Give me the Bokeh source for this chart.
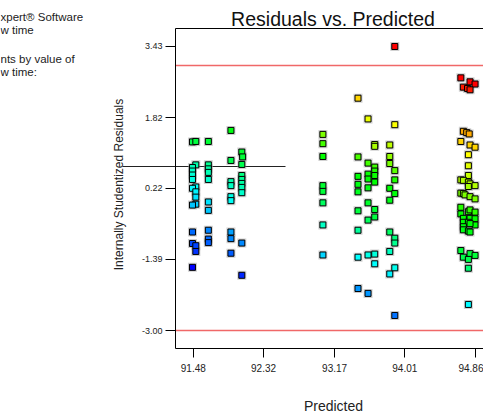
import colorsys
import math
import numpy as np
import pandas as pd
from bokeh.plotting import figure
from bokeh.models import (ColumnDataSource, LinearColorMapper, FixedTicker, Label,
                          LinearAxis, Range1d)
from bokeh.embed import file_html
from bokeh.resources import INLINE

# ---------------- data ----------------
x_ticks = [91.48, 92.32, 93.17, 94.01, 94.86]
y_ticks = [-3.00, -1.39, 0.22, 1.82, 3.43]
limit_lines = [-3.00, 3.00]

pred_a = [91.47, 91.51, 91.51, 91.47, 91.47, 91.47, 91.47, 91.51, 91.47, 91.51,
          91.51, 91.51, 91.47, 91.47, 91.47, 91.51, 91.51, 91.47]
resid_a = [1.27, 1.28, 0.75, 0.69, 0.61, 0.52, 0.42, 0.25, 0.22, 0.14,
           0.02, -0.14, -0.16, -0.77, -1.03, -1.08, -1.21, -1.57]

pred_b = [91.66, 91.66, 91.66, 91.66, 91.66, 91.66, 91.66, 91.66, 91.66, 91.66]
resid_b = [1.28, 0.75, 0.66, 0.58, 0.42, -0.09, -0.28, -0.73, -0.93, -1.01]

pred_c = [91.93, 92.06, 92.07, 91.93, 92.06, 92.06, 92.06, 92.06, 92.06, 92.06,
          91.93, 91.93, 91.93, 91.93, 91.93, 91.93, 92.06, 91.93, 92.06]
resid_c = [1.53, 1.04, 0.93, 0.85, 0.76, 0.51, 0.42, 0.33, 0.24, 0.12,
           0.37, 0.28, 0.03, -0.06, -0.77, -0.92, -1.02, -1.25, -1.75]

pred_d = [93.03, 93.03, 93.03, 93.03, 93.03, 93.03, 93.03, 93.03]
resid_d = [1.44, 1.23, 0.94, 0.28, 0.15, -0.11, -0.61, -1.29]

pred_e = [93.45] * 9 + [93.57] * 9 + [93.65] * 10
resid_e = [2.26, 0.93, 0.49, 0.31, 0.14, -0.29, -0.73, -1.34, -2.05,
           1.79, 0.79, 0.54, 0.43, 0.23, -0.11, -0.50, -1.29, -2.16,
           1.21, 1.17, 0.70, 0.61, 0.51, 0.36, -0.26, -0.43, -1.27, -1.49]

pred_f = [93.83] * 8 + [93.89] * 9
resid_f = [1.20, 0.94, 0.78, 0.22, -0.05, -0.77, -1.21, -1.72,
           3.43, 1.66, 0.62, 0.41, 0.10, -0.91, -1.02, -1.58, -2.66]

pred_g = [94.68, 94.79, 94.85, 94.71, 94.76, 94.79,
          94.71, 94.75, 94.78, 94.68, 94.79, 94.85, 94.77, 94.77,
          94.77, 94.68, 94.71, 94.77, 94.79, 94.85, 94.77,
          94.68, 94.71, 94.73, 94.79, 94.85,
          94.68, 94.77, 94.79, 94.85, 94.68, 94.71, 94.79, 94.85, 94.71, 94.77,
          94.85, 94.71, 94.79, 94.71, 94.77, 94.79,
          94.68, 94.71, 94.79, 94.85, 94.77, 94.77, 94.77]
resid_g = [2.72, 2.63, 2.58, 2.51, 2.48, 2.45,
           1.51, 1.48, 1.45, 1.28, 1.20, 1.15, 0.98, 0.73,
           0.51, 0.41, 0.40, 0.36, 0.32, 0.28, 0.26,
           0.11, 0.10, 0.07, 0.03, -0.02,
           -0.21, -0.31, -0.27, -0.32, -0.36, -0.46, -0.46, -0.47, -0.55, -0.55,
           -0.61, -0.65, -0.58, -0.72, -0.75, -0.77,
           -1.19, -1.34, -1.26, -1.30, -1.39, -1.59, -2.41]

predicted = pred_a + pred_b + pred_c + pred_d + pred_e + pred_f + pred_g
residuals = resid_a + resid_b + resid_c + resid_d + resid_e + resid_f + resid_g

title_text = "Residuals vs. Predicted"
x_label = "Predicted"
y_label = "Internally Studentized Residuals"
info_lines = ["xpert® Software", "w time", "nts by value of", "w time:"]

# ---------------- layout helpers (pixel geometry of the page) ----------------
W, H = 483, 414
PLOT_X0, PLOT_X1 = 91.267, 94.951      # x extent of the plotting box
PLOT_Y0, PLOT_Y1 = -3.4075, 3.8375     # y extent of the plotting box
BOX_L, BOX_R, BOX_T, BOX_B = 175, 483, 28, 348
sx = (PLOT_X1 - PLOT_X0) / (BOX_R - BOX_L)
sy = (PLOT_Y1 - PLOT_Y0) / (BOX_B - BOX_T)


def px_x(px):
    return PLOT_X0 + (px - BOX_L) * sx


def px_y(py):
    return PLOT_Y1 - (py - BOX_T) * sy


df = pd.DataFrame({"predicted": predicted, "residual": residuals})
# colour points by (approximate) flow time value
df["flow_time"] = df["predicted"] + 1.25 * df["residual"]
src = ColumnDataSource(df)

# blue -> cyan -> green -> yellow -> red colour ramp
C_LOW, C_HIGH = 89.5, 98.0
ramp_c = [89.5, 90.5, 91.76, 92.3, 93.1, 94.3, 94.8, 95.2, 96.0, 96.6, 97.9, 98.0]
ramp_h = [240, 215, 180, 165, 135, 118, 92, 78, 60, 40, 5, 0]
palette = []
for c in np.linspace(C_LOW, C_HIGH, 256):
    h = float(np.interp(c, ramp_c, ramp_h))
    r, g, b = colorsys.hsv_to_rgb(h / 360.0, 1.0, 1.0)
    palette.append("#%02x%02x%02x" % (int(r * 255), int(g * 255), int(b * 255)))
mapper = LinearColorMapper(palette=palette, low=C_LOW, high=C_HIGH)

FONT = "Liberation Sans"
TXT = "#222222"

p = figure(width=W, height=H, output_backend="svg", toolbar_location=None,
           x_range=Range1d(px_x(0), px_x(W)), y_range=Range1d(px_y(H), px_y(0)),
           x_axis_location=None, y_axis_location=None,
           min_border=0, min_border_left=0, min_border_right=0,
           min_border_top=0, min_border_bottom=0)
p.outline_line_color = None
p.grid.visible = False
p.background_fill_color = "white"
p.border_fill_color = "white"

# top border of the plotting box
p.segment(x0=[PLOT_X0], y0=[PLOT_Y1], x1=[PLOT_X1], y1=[PLOT_Y1],
          line_color="black", line_width=1)

# +/- limit lines
p.segment(x0=[PLOT_X0] * len(limit_lines), y0=limit_lines,
          x1=[PLOT_X1] * len(limit_lines), y1=limit_lines,
          line_color="#f06868", line_width=1.6)

# stray horizontal line from the legend area
p.segment(x0=[px_x(122)], y0=[px_y(166)], x1=[px_x(285)], y1=[px_y(166)],
          line_color=TXT, line_width=1.2)

# points: soft grey halo + coloured square
p.scatter("predicted", "residual", source=src, marker="square", size=9,
          fill_color="#9a9a9a", fill_alpha=0.45, line_color=None)
p.scatter("predicted", "residual", source=src, marker="square", size=6,
          fill_color={"field": "flow_time", "transform": mapper},
          line_color="black", line_width=1)

# axes pinned to the plotting box
xaxis = LinearAxis(fixed_location=PLOT_Y0, bounds=(PLOT_X0, PLOT_X1),
                   ticker=FixedTicker(ticks=x_ticks, minor_ticks=[]))
yaxis = LinearAxis(fixed_location=PLOT_X0, bounds=(PLOT_Y0, PLOT_Y1),
                   ticker=FixedTicker(ticks=y_ticks, minor_ticks=[]))
xaxis.major_label_overrides = {v: f"{v:.2f}" for v in x_ticks}
yaxis.major_label_overrides = {v: f"{v:.2f}" for v in y_ticks}
for ax in (xaxis, yaxis):
    ax.axis_line_color = "black"
    ax.axis_line_width = 1
    ax.major_tick_line_color = "black"
    ax.major_tick_in = 0
    ax.minor_tick_line_color = None
    ax.major_label_text_font = FONT
    ax.major_label_text_color = TXT
xaxis.major_tick_out = 9
xaxis.major_label_standoff = 6
xaxis.major_label_text_font_size = "10px"
yaxis.major_tick_out = 10
yaxis.major_label_standoff = 3
yaxis.major_label_text_font_size = "9px"
p.add_layout(xaxis, "below")
p.add_layout(yaxis, "left")

# title and axis titles
p.add_layout(Label(x=px_x(332.5), y=px_y(18), text=title_text, text_font=FONT,
                   text_font_size="19.5px", text_color="#111111",
                   text_align="center", text_baseline="middle"))
p.add_layout(Label(x=px_x(333), y=px_y(405), text=x_label, text_font=FONT,
                   text_font_size="14px", text_color=TXT,
                   text_align="center", text_baseline="middle"))
p.add_layout(Label(x=px_x(118), y=px_y(184), text=y_label, text_font=FONT,
                   text_font_size="12px", text_color=TXT, angle=math.pi / 2,
                   text_align="center", text_baseline="middle"))

# legend text fragments at top-left (cut off in the reference)
info_py = [16, 29, 58, 71]
for t, py in zip(info_lines, info_py):
    p.add_layout(Label(x=px_x(0), y=px_y(py), text=t, text_font=FONT,
                       text_font_size="11.5px", text_color=TXT,
                       text_baseline="middle"))

open("out.html", "w").write(file_html(p, INLINE))
